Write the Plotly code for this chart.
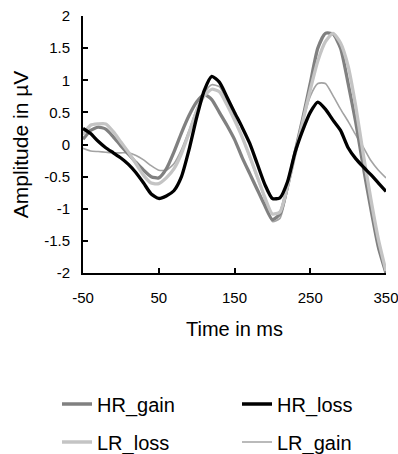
import plotly.graph_objects as go

time_ms = list(range(-50, 351, 10))

hr_gain = [0.08, 0.22, 0.27, 0.24, 0.12, -0.02, -0.15, -0.28, -0.40, -0.50, -0.52,
           -0.38, -0.12, 0.18, 0.45, 0.66, 0.78, 0.70, 0.50, 0.30, 0.08,
           -0.20, -0.45, -0.70, -0.95, -1.17, -1.08, -0.65, -0.12, 0.40, 0.95,
           1.50, 1.73, 1.72, 1.50, 0.95, 0.35, -0.35, -1.00, -1.60, -2.00]

hr_loss = [0.25, 0.17, 0.05, -0.05, -0.13, -0.21, -0.31, -0.44, -0.60, -0.77, -0.84,
           -0.80, -0.72, -0.50, -0.08, 0.42, 0.84, 1.06, 0.97, 0.74, 0.50,
           0.27, 0.02, -0.30, -0.62, -0.84, -0.83, -0.58, -0.12, 0.22, 0.50,
           0.66, 0.55, 0.38, 0.22, -0.05, -0.22, -0.35, -0.47, -0.60, -0.73]

lr_loss = [0.15, 0.30, 0.32, 0.32, 0.20, 0.04, -0.12, -0.30, -0.48, -0.60, -0.61,
           -0.52, -0.38, -0.14, 0.18, 0.52, 0.76, 0.86, 0.82, 0.62, 0.38,
           0.12, -0.18, -0.50, -0.82, -1.08, -1.05, -0.65, -0.15, 0.35, 0.85,
           1.30, 1.60, 1.73, 1.58, 1.22, 0.60, -0.15, -0.85, -1.48, -1.97]

lr_gain = [-0.06, -0.10, -0.11, -0.12, -0.13, -0.13, -0.13, -0.17, -0.24, -0.33, -0.40,
           -0.40, -0.30, -0.08, 0.22, 0.55, 0.80, 0.93, 0.90, 0.68, 0.42,
           0.12, -0.20, -0.52, -0.85, -1.20, -1.15, -0.70, -0.15, 0.35, 0.75,
           0.95, 0.95, 0.76, 0.55, 0.36, 0.15, -0.04, -0.25, -0.40, -0.52]

x_ticks = [-50, 50, 150, 250, 350]
x_tick_labels = ["-50", "50", "150", "250", "350"]
y_ticks = [-2, -1.5, -1, -0.5, 0, 0.5, 1, 1.5, 2]
y_tick_labels = ["-2", "-1.5", "-1", "-0.5", "0", "0.5", "1", "1.5", "2"]

# (name, values, colour, width, legend id)
series = [
    ("LR_gain", lr_gain, "#a3a3a3", 1.6, "legend4"),
    ("HR_gain", hr_gain, "#808080", 3.3, "legend"),
    ("LR_loss", lr_loss, "#c4c4c4", 3.3, "legend3"),
    ("HR_loss", hr_loss, "#000000", 3.3, "legend2"),
]

fig = go.Figure()
for name, vals, color, width, leg in series:
    fig.add_trace(go.Scatter(
        x=time_ms, y=vals, mode="lines", name=name,
        line=dict(color=color, width=width, shape="spline", smoothing=0.6),
        legend=leg,
    ))

font_family = "Liberation Sans, Arial, sans-serif"

legend_common = dict(
    orientation="h", xref="container", yref="container",
    xanchor="left", yanchor="middle",
    font=dict(size=20, family=font_family, color="black"),
    bgcolor="rgba(0,0,0,0)",
)

W, H = 398, 454
col1, col2 = 57, 237
row1, row2 = 404, 442

fig.update_layout(
    width=W, height=H,
    margin=dict(l=83, r=12, t=16, b=181, autoexpand=False),
    plot_bgcolor="white", paper_bgcolor="white",
    font=dict(family=font_family, color="black", size=15),
    showlegend=True,
    legend=dict(x=col1 / W, y=1 - row1 / H, **legend_common),
    legend2=dict(x=col2 / W, y=1 - row1 / H, **legend_common),
    legend3=dict(x=col1 / W, y=1 - row2 / H, **legend_common),
    legend4=dict(x=col2 / W, y=1 - row2 / H, **legend_common),
    xaxis=dict(
        range=[-50, 350], tickmode="array", tickvals=x_ticks, ticktext=x_tick_labels,
        showline=True, linecolor="black", linewidth=2, mirror=False,
        ticks="inside", ticklen=5, tickwidth=1.5, tickcolor="black",
        showgrid=False, zeroline=False, ticklabeloverflow="allow",
        tickfont=dict(size=15), ticklabelstandoff=10,
        title=dict(text="Time in ms", font=dict(size=20), standoff=17),
    ),
    yaxis=dict(
        range=[-2, 2], tickmode="array", tickvals=y_ticks, ticktext=y_tick_labels,
        showline=True, linecolor="black", linewidth=2, mirror=False,
        ticks="inside", ticklen=5, tickwidth=1.5, tickcolor="black",
        showgrid=False, zeroline=False, ticklabeloverflow="allow",
        tickfont=dict(size=15), ticklabelstandoff=8,
        title=dict(text="Amplitude in µV", font=dict(size=21), standoff=10),
    ),
)

fig.write_html(
    "out.html",
    config={"displayModeBar": False},
    post_script="document.body.style.margin='0px';document.body.style.overflow='hidden';",
)
